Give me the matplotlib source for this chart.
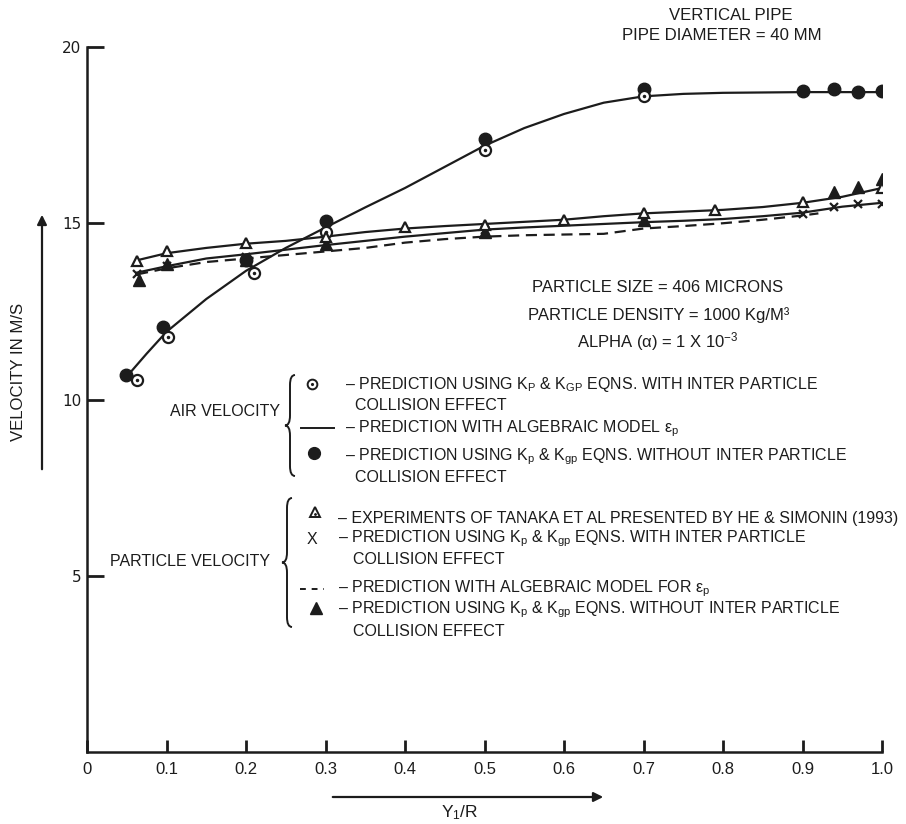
import matplotlib
matplotlib.use('Agg')
import matplotlib.pyplot as plt
from matplotlib import font_manager
from matplotlib.path import Path
from matplotlib.patches import PathPatch, FancyArrowPatch
from matplotlib.lines import Line2D

# ---------------- data ----------------
# Air velocity: smooth curve (algebraic model)
air_curve_x = [0.05, 0.075, 0.10, 0.15, 0.20, 0.25, 0.30, 0.35, 0.40, 0.45, 0.50,
               0.55, 0.60, 0.65, 0.70, 0.75, 0.80, 0.90, 1.00]
air_curve_y = [10.65, 11.3, 11.92, 12.85, 13.65, 14.3, 14.88, 15.45, 16.0, 16.6, 17.2,
               17.7, 18.1, 18.42, 18.6, 18.67, 18.70, 18.72, 18.72]
# Air velocity: Kp & Kgp with collision (open dotted circles)
air_with_x = [0.063, 0.102, 0.21, 0.30, 0.50, 0.70]
air_with_y = [10.56, 11.76, 13.6, 14.74, 17.08, 18.6]
# Air velocity: Kp & Kgp without collision (filled circles)
air_without_x = [0.049, 0.096, 0.20, 0.30, 0.50, 0.70, 0.90, 0.94, 0.97, 1.00]
air_without_y = [10.7, 12.07, 13.95, 15.06, 17.4, 18.82, 18.74, 18.8, 18.71, 18.74]

# Particle velocity: experiments (open triangles)
exp_x = [0.063, 0.10, 0.20, 0.30, 0.40, 0.50, 0.60, 0.70, 0.79, 0.90, 1.00]
exp_y = [13.92, 14.2, 14.45, 14.6, 14.88, 14.95, 15.1, 15.3, 15.38, 15.6, 16.0]
# Solid line drawn through experimental points
exp_line_x = [0.063, 0.10, 0.15, 0.20, 0.25, 0.30, 0.35, 0.40, 0.45, 0.50, 0.55,
              0.60, 0.65, 0.70, 0.75, 0.80, 0.85, 0.90, 0.95, 1.00]
exp_line_y = [13.95, 14.15, 14.3, 14.42, 14.5, 14.62, 14.75, 14.85, 14.92, 14.98, 15.04,
              15.1, 15.2, 15.28, 15.33, 15.38, 15.46, 15.58, 15.75, 16.0]
# Particle: Kp & Kgp with collision (X markers) and its solid line
pwith_x = [0.063, 0.10, 0.20, 0.30, 0.50, 0.70, 0.90, 0.94, 0.97, 1.00]
pwith_y = [13.55, 13.8, 14.05, 14.4, 14.8, 15.05, 15.25, 15.45, 15.55, 15.55]
pwith_line_x = [0.063, 0.10, 0.15, 0.20, 0.25, 0.30, 0.35, 0.40, 0.45, 0.50, 0.55,
                0.60, 0.65, 0.70, 0.75, 0.80, 0.85, 0.90, 0.95, 1.00]
pwith_line_y = [13.6, 13.78, 14.0, 14.12, 14.25, 14.38, 14.5, 14.62, 14.72, 14.82, 14.88,
                14.93, 14.98, 15.03, 15.07, 15.12, 15.2, 15.3, 15.47, 15.58]
# Particle: algebraic model (dashed)
palg_x = [0.063, 0.10, 0.15, 0.20, 0.25, 0.30, 0.35, 0.40, 0.45, 0.50, 0.55,
          0.60, 0.65, 0.70, 0.75, 0.80, 0.85, 0.90, 0.92]
palg_y = [13.55, 13.72, 13.9, 14.0, 14.1, 14.2, 14.3, 14.45, 14.55, 14.62, 14.66,
          14.68, 14.7, 14.85, 14.92, 15.0, 15.1, 15.22, 15.28]
# Particle: Kp & Kgp without collision (filled triangles)
pwo_x = [0.065, 0.10, 0.20, 0.30, 0.50, 0.70, 0.94, 0.97, 1.00]
pwo_y = [13.38, 13.83, 13.95, 14.4, 14.75, 15.08, 15.9, 16.02, 16.25]

xticks = [0.0, 0.1, 0.2, 0.3, 0.4, 0.5, 0.6, 0.7, 0.8, 0.9, 1.0]
xticklabels = ['0', '0.1', '0.2', '0.3', '0.4', '0.5', '0.6', '0.7', '0.8', '0.9', '1.0']
yticks = [5, 10, 15, 20]
yticklabels = ['5', '10', '15', '20']

# ---------------- fonts ----------------
names = {f.name for f in font_manager.fontManager.ttflist}
if 'Liberation Sans Narrow' in names:
    NARROW = 'Liberation Sans Narrow'
    NS = 1.19
else:
    NARROW = 'Liberation Sans'
    NS = 1.0
REG = 'Liberation Sans'
plt.rcParams['font.family'] = [NARROW, 'DejaVu Sans']
plt.rcParams['mathtext.fontset'] = 'custom'
plt.rcParams['mathtext.rm'] = NARROW
plt.rcParams['mathtext.it'] = NARROW
plt.rcParams['mathtext.bf'] = NARROW

INK = '#1c1c1c'
W, H = 906, 824
fig = plt.figure(figsize=(W / 100, H / 100), dpi=100)


def fx(px):
    return px / W


def fy(py):
    return 1 - py / H


ax = fig.add_axes([fx(87), fy(752), (882 - 87) / W, (752 - 47) / H])
ax.set_xlim(0, 1)
ax.set_ylim(0, 20)
for s in ['top', 'right']:
    ax.spines[s].set_visible(False)
for s in ['left', 'bottom']:
    ax.spines[s].set_linewidth(1.8)
    ax.spines[s].set_color(INK)

ax.set_xticks(xticks)
ax.set_xticklabels(xticklabels, fontsize=12 * NS, family=[NARROW, 'DejaVu Sans'])
ax.set_yticks(yticks)
ax.set_yticklabels(yticklabels, fontsize=11, family='DejaVu Sans')
ax.tick_params(axis='y', direction='in', length=12, width=2, pad=4, colors=INK)
ax.tick_params(axis='x', direction='in', length=9, width=2, pad=7, colors=INK)

lw = 1.6
# Air velocity
ax.plot(air_curve_x, air_curve_y, color=INK, lw=lw)
ax.plot(air_without_x, air_without_y, 'o', color=INK, ms=9, zorder=4)
ax.plot(air_with_x, air_with_y, 'o', mfc='white', mec=INK, mew=1.6, ms=8, zorder=5)
ax.plot(air_with_x, air_with_y, '.', color=INK, ms=3, zorder=6)
# Particle velocity
ax.plot(exp_line_x, exp_line_y, color=INK, lw=lw)
ax.plot(pwith_line_x, pwith_line_y, color=INK, lw=lw)
ax.plot(palg_x, palg_y, color=INK, lw=lw, ls=(0, (5, 3)))
ax.plot(pwo_x, pwo_y, '^', color=INK, ms=8.5, zorder=4)
ax.plot(pwith_x, pwith_y, 'x', color=INK, ms=6, mew=1.6, zorder=5)
ax.plot(exp_x, exp_y, '^', mfc='white', mec=INK, mew=1.6, ms=7, zorder=6)

# ---------------- annotations ----------------
def ftext(px, py, s, size=12, ha='left', family=None, **kw):
    fam = family if family is not None else [NARROW, 'DejaVu Sans']
    fig.text(fx(px), fy(py), s, fontsize=size, ha=ha, va='center', family=fam, color=INK, **kw)


def arrow(p0, p1):
    fig.add_artist(FancyArrowPatch((fx(p0[0]), fy(p0[1])), (fx(p1[0]), fy(p1[1])),
                                   transform=fig.transFigure, arrowstyle='-|>',
                                   mutation_scale=14, lw=1.6, color=INK))


def brace(xr, y0, y1, w, q=10):
    ym = (y0 + y1) / 2
    xm = xr - w / 2
    xt = xr - w
    pts = [(xr, y0), (xm, y0), (xm, y0 + q), (xm, ym - q), (xm, ym), (xt, ym),
           (xm, ym), (xm, ym + q), (xm, y1 - q), (xm, y1), (xr, y1)]
    codes = [Path.MOVETO, Path.CURVE3, Path.CURVE3, Path.LINETO, Path.CURVE3, Path.CURVE3,
             Path.CURVE3, Path.CURVE3, Path.LINETO, Path.CURVE3, Path.CURVE3]
    verts = [(fx(a), fy(b)) for a, b in pts]
    fig.add_artist(PathPatch(Path(verts, codes), transform=fig.transFigure,
                             fill=False, lw=1.4, color=INK))


def sym(px, py, **kw):
    fig.add_artist(Line2D([fx(px)], [fy(py)], transform=fig.transFigure, color=INK, **kw))


# header
ftext(731, 16, 'VERTICAL PIPE', size=12.1 * NS, ha='center')
ftext(722, 36, 'PIPE DIAMETER = 40 MM', size=12.1 * NS, ha='center')

# parameters
ftext(658, 287, 'PARTICLE SIZE = 406 MICRONS', size=12, ha='center', family=[REG, 'DejaVu Sans'])
ftext(659, 315, 'PARTICLE DENSITY = 1000 Kg/M\u00b3', size=12, ha='center', family=[REG, 'DejaVu Sans'])
ftext(658, 342, 'ALPHA (\u03b1) = 1 X 10$^{-3}$', size=12, ha='center', family=[REG, 'DejaVu Sans'])

# axis labels
fig.text(fx(19), fy(372), 'VELOCITY IN M/S', rotation=90, fontsize=12.1 * NS, ha='center',
         va='center', family=[NARROW, 'DejaVu Sans'], color=INK)
arrow((42, 472), (42, 212))
ftext(460, 813, 'Y$_1$/R', size=12.5 * NS, ha='center')
arrow((330, 797), (606, 797))

LS = 11.5 * NS
# air velocity legend
ftext(280, 412, 'AIR VELOCITY', size=LS, ha='right')
brace(295, 375, 476, 10)
sym(312, 384, marker='o', mfc='white', mec=INK, mew=1.4, ms=7)
sym(312, 384, marker='.', ms=2.5)
ftext(345, 385, '\u2013 PREDICTION USING K$_\\mathregular{P}$ & K$_\\mathregular{GP}$ EQNS. WITH INTER PARTICLE', size=LS)
ftext(355, 406, 'COLLISION EFFECT', size=LS)
fig.add_artist(Line2D([fx(301), fx(334)], [fy(428), fy(428)], transform=fig.transFigure, color=INK, lw=1.4))
ftext(345, 429, '\u2013 PREDICTION WITH ALGEBRAIC MODEL \u03b5$_\\mathregular{p}$', size=LS)
sym(314, 453, marker='o', ms=8.5)
ftext(345, 457, '\u2013 PREDICTION USING K$_\\mathregular{p}$ & K$_\\mathregular{gp}$ EQNS. WITHOUT INTER PARTICLE', size=LS)
ftext(355, 478, 'COLLISION EFFECT', size=LS)

# particle velocity legend
ftext(270, 561, 'PARTICLE VELOCITY', size=LS, ha='right')
brace(292, 498, 627, 10)
sym(315, 512, marker='^', mfc='white', mec=INK, mew=1.4, ms=7)
sym(315, 513.5, marker='.', ms=2)
ftext(338, 518, '\u2013 EXPERIMENTS OF TANAKA ET AL PRESENTED BY HE & SIMONIN (1993)', size=LS)
ftext(312, 539, 'X', size=LS, ha='center')
ftext(338, 539, '\u2013 PREDICTION USING K$_\\mathregular{p}$ & K$_\\mathregular{gp}$ EQNS. WITH INTER PARTICLE', size=LS)
ftext(353, 560, 'COLLISION EFFECT', size=LS)
fig.add_artist(Line2D([fx(300), fx(324)], [fy(589), fy(589)], transform=fig.transFigure,
                      color=INK, lw=1.4, ls=(0, (3, 3))))
ftext(338, 589, '\u2013 PREDICTION WITH ALGEBRAIC MODEL FOR \u03b5$_\\mathregular{p}$', size=LS)
sym(316, 608, marker='^', ms=9)
ftext(338, 610, '\u2013 PREDICTION USING K$_\\mathregular{p}$ & K$_\\mathregular{gp}$ EQNS. WITHOUT INTER PARTICLE', size=LS)
ftext(353, 631, 'COLLISION EFFECT', size=LS)

fig.savefig('out.png', dpi=100, facecolor='white')
